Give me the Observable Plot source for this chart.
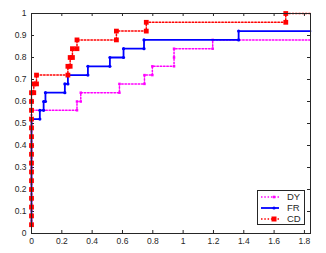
<!DOCTYPE html>
<html><head><meta charset="utf-8">
<script src="https://cdn.jsdelivr.net/npm/d3@7"></script>
<script src="https://cdn.jsdelivr.net/npm/@observablehq/plot@0.6"></script>
<style>
body{margin:0;background:#fff;}
#wrap{position:relative;width:326px;height:253px;overflow:hidden;}
.legend{position:absolute;left:257px;top:190px;width:46px;height:33px;border:1px solid #262626;background:#fff;}
.legend svg{display:block;}
</style></head><body><div id="wrap"></div>
<script>
// tick values
const xTicks = [0, 0.2, 0.4, 0.6, 0.8, 1, 1.2, 1.4, 1.6, 1.8];
const yTicks = [0, 0.1, 0.2, 0.3, 0.4, 0.5, 0.6, 0.7, 0.8, 0.9, 1];
const seriesNames = ["DY", "FR", "CD"];
const seriesColors = ["#ff00ff", "#0000ff", "#ff0000"];

// DY (vertices of the step curve)
const dyX = [0,0,0,0,0,0,0,0,0,0,0,0,0,0,
  0.30,0.30,0.325,0.325,0.58,0.58,0.745,0.745,0.797,0.797,0.94,0.94,0.94,1.195,1.195,1.84];
const dyY = [0.04,0.08,0.12,0.16,0.20,0.24,0.28,0.32,0.36,0.40,0.44,0.48,0.52,0.56,
  0.56,0.60,0.60,0.64,0.64,0.68,0.68,0.72,0.72,0.76,0.76,0.80,0.84,0.84,0.88,0.88];

// FR
const frX = [0,0,0,0,0,0,0,0,0,0,0,0,0,
  0.055,0.055,0.08,0.08,0.092,0.092,0.22,0.22,0.24,0.24,0.372,0.372,0.517,0.517,0.607,0.607,0.742,0.742,1.366,1.366,1.84];
const frY = [0.04,0.08,0.12,0.16,0.20,0.24,0.28,0.32,0.36,0.40,0.44,0.48,0.52,
  0.52,0.56,0.56,0.60,0.60,0.64,0.64,0.68,0.68,0.72,0.72,0.76,0.76,0.80,0.80,0.84,0.84,0.88,0.88,0.92,0.92];

// CD
const cdX = [0,0,0,0,0,0,0,0,0,0,0,0,0,0,0,0,
  0.015,0.015,0.033,0.033,0.24,0.24,0.255,0.255,0.27,0.27,0.30,0.30,0.56,0.56,0.757,0.757,1.677,1.677,1.84];
const cdY = [0.04,0.08,0.12,0.16,0.20,0.24,0.28,0.32,0.36,0.40,0.44,0.48,0.52,0.56,0.60,0.64,
  0.64,0.68,0.68,0.72,0.72,0.76,0.76,0.80,0.80,0.84,0.84,0.88,0.88,0.92,0.92,0.96,0.96,1.0,1.0];

const toRows = (xs, ys) => xs.map((x, i) => ({x, y: ys[i], last: i === xs.length - 1}));
const dy = toRows(dyX, dyY), fr = toRows(frX, frY), cd = toRows(cdX, cdY);

const W = 326, H = 253, mL = 31, mT = 13, mR = 16, mB = 20;
const pw = W - mL - mR, ph = H - mT - mB, tk = 3;
const axisColor = "#262626";
const fmt = d => String(d);

const chart = Plot.plot({
  width: W, height: H,
  marginLeft: mL, marginTop: mT, marginRight: mR, marginBottom: mB,
  x: {domain: [0, 1.84]},
  y: {domain: [0, 1]},
  style: {fontFamily: "'Liberation Sans', Arial, sans-serif", fontSize: "8.5px", color: axisColor, background: "white", overflow: "visible"},
  marks: [
    Plot.axisX(xTicks, {anchor: "bottom", tickSize: 0, tickPadding: 4, label: null, fill: axisColor, tickFormat: fmt}),
    Plot.axisY(yTicks, {anchor: "left", tickSize: 0, tickPadding: 5, label: null, fill: axisColor, tickFormat: fmt}),
    Plot.tickX(xTicks, {x: d => d, stroke: axisColor, insetTop: ph - tk}),
    Plot.tickX(xTicks, {x: d => d, stroke: axisColor, insetBottom: ph - tk}),
    Plot.tickY(yTicks, {y: d => d, stroke: axisColor, insetRight: pw - tk}),
    Plot.tickY(yTicks, {y: d => d, stroke: axisColor, insetLeft: pw - tk}),
    // DY
    Plot.line(dy, {x: "x", y: "y", stroke: seriesColors[0], strokeWidth: 1.5, strokeDasharray: "1.5,1.8"}),
    Plot.dot(dy.filter(d => !d.last), {x: "x", y: "y", symbol: "square", r: 1.4, fill: seriesColors[0]}),
    // FR
    Plot.line(fr, {x: "x", y: "y", stroke: seriesColors[1], strokeWidth: 1.8}),
    Plot.dot(fr.filter(d => !d.last), {x: "x", y: "y", r: 1.6, fill: seriesColors[1]}),
    // CD
    Plot.line(cd, {x: "x", y: "y", stroke: seriesColors[2], strokeWidth: 1.5, strokeDasharray: "1.5,1.8"}),
    Plot.dot(cd.filter(d => !d.last), {x: "x", y: "y", symbol: "square", r: 2.7, fill: seriesColors[2]}),
    Plot.frame({stroke: axisColor, strokeWidth: 1})
  ]
});

const wrap = document.getElementById("wrap");
wrap.appendChild(chart);

// legend overlay
const leg = document.createElement("div");
leg.className = "legend";
const ns = "http://www.w3.org/2000/svg";
const svg = document.createElementNS(ns, "svg");
svg.setAttribute("width", 46); svg.setAttribute("height", 33);
const styles = [
  {dash: "1.5,1.8", w: 1.5, sym: "sq", s: 2.6},
  {dash: null, w: 1.8, sym: "dot", s: 1.6},
  {dash: "1.5,1.8", w: 1.5, sym: "sq", s: 5}
];
seriesNames.forEach((name, i) => {
  const yy = 6 + i * 11;
  const st = styles[i];
  const ln = document.createElementNS(ns, "line");
  ln.setAttribute("x1", 3); ln.setAttribute("x2", 21); ln.setAttribute("y1", yy); ln.setAttribute("y2", yy);
  ln.setAttribute("stroke", seriesColors[i]); ln.setAttribute("stroke-width", st.w);
  if (st.dash) ln.setAttribute("stroke-dasharray", st.dash);
  svg.appendChild(ln);
  let mk;
  if (st.sym === "sq") {
    mk = document.createElementNS(ns, "rect");
    mk.setAttribute("x", 16 - st.s / 2); mk.setAttribute("y", yy - st.s / 2);
    mk.setAttribute("width", st.s); mk.setAttribute("height", st.s);
  } else {
    mk = document.createElementNS(ns, "circle");
    mk.setAttribute("cx", 16); mk.setAttribute("cy", yy); mk.setAttribute("r", st.s);
  }
  mk.setAttribute("fill", seriesColors[i]);
  svg.appendChild(mk);
  const tx = document.createElementNS(ns, "text");
  tx.setAttribute("x", 29); tx.setAttribute("y", yy + 3.3);
  tx.setAttribute("font-family", "'Liberation Sans', Arial, sans-serif");
  tx.setAttribute("font-size", "9.5");
  tx.setAttribute("fill", axisColor);
  tx.textContent = name;
  svg.appendChild(tx);
});
leg.appendChild(svg);
wrap.appendChild(leg);
</script>
</body></html>
